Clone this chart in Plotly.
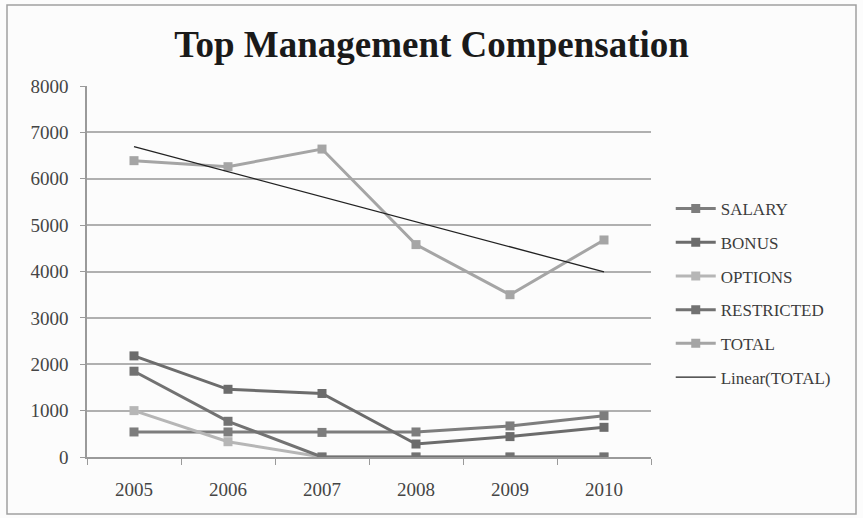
import numpy as np
import plotly.graph_objects as go

# Compensation components by year (thousands)
years = ["2005", "2006", "2007", "2008", "2009", "2010"]
salary = [540, 540, 530, 540, 670, 890]
bonus = [2180, 1460, 1370, 280, 440, 640]
options = [1000, 330, 0, 0, 0, 0]
restricted = [1850, 770, 0, 0, 0, 0]
total = [6390, 6260, 6640, 4580, 3500, 4680]

series = [
    ("SALARY", salary, "#7d7d7d"),
    ("BONUS", bonus, "#6c6c6c"),
    ("OPTIONS", options, "#b6b6b6"),
    ("RESTRICTED", restricted, "#727272"),
    ("TOTAL", total, "#a5a5a5"),
]

SERIF = "Liberation Serif, DejaVu Serif, serif"

fig = go.Figure()
for i, (name, vals, color) in enumerate(series):
    fig.add_trace(go.Scatter(
        x=years, y=vals, name=name, mode="lines+markers",
        line=dict(color=color, width=3),
        marker=dict(symbol="square", size=9, color=color),
        legendgroup=f"g{i}",
    ))

# Least-squares linear trend of TOTAL
idx = np.arange(1, len(years) + 1)
slope, intercept = np.polyfit(idx, total, 1)
trend = slope * idx + intercept
fig.add_trace(go.Scatter(
    x=years, y=trend, name="Linear(TOTAL)", mode="lines",
    line=dict(color="#222222", width=1.3),
    legendgroup="trend",
))

# Plot-area geometry in pixels, used to place the outer frame
W, H = 863, 518
ML, MR, MT, MB = 87, 212, 86, 61
pw, ph = W - ML - MR, H - MT - MB

def px_x(x):
    return (x - ML) / pw

def px_y(y):
    return (H - MB - y) / ph

fig.add_shape(
    type="rect", xref="paper", yref="paper",
    x0=px_x(7), x1=px_x(856), y0=px_y(514), y1=px_y(5),
    line=dict(color="#a0a0a0", width=1.5), layer="below",
)

fig.update_layout(
    width=W, height=H,
    margin=dict(l=ML, r=MR, t=MT, b=MB),
    paper_bgcolor="#fcfcfc", plot_bgcolor="#fcfcfc",
    title=dict(
        text="<b>Top Management Compensation</b>",
        font=dict(family=SERIF, size=37, color="#1a1a1a"),
        x=0.5 * (px_x(0) + px_x(W)), xref="paper", xanchor="center",
        y=1 - 44 / H, yanchor="middle",
    ),
    legend=dict(
        x=1.035, y=px_y(191), xanchor="left", yanchor="top",
        font=dict(family=SERIF, size=17, color="#3c3c3c"),
        bgcolor="rgba(0,0,0,0)", tracegroupgap=8.6, itemwidth=40,
    ),
    xaxis=dict(
        type="category", range=[-0.5, len(years) - 0.5], showgrid=False,
        showline=True, linecolor="#9a9a9a", linewidth=1.5,
        ticks="outside", tickson="boundaries", ticklen=6, tickcolor="#9a9a9a",
        tickfont=dict(family=SERIF, size=19, color="#454545"),
        ticklabelstandoff=14,
    ),
    yaxis=dict(
        range=[0, 8000], dtick=1000, tick0=0,
        showgrid=True, gridcolor="#b0b0b0", gridwidth=1.5,
        showline=True, linecolor="#9a9a9a", linewidth=1.5,
        ticks="outside", ticklen=5, tickcolor="#9a9a9a",
        tickfont=dict(family=SERIF, size=19, color="#454545"),
        ticklabelstandoff=8, zeroline=False,
    ),
    showlegend=True,
)

fig.write_html("out.html")
